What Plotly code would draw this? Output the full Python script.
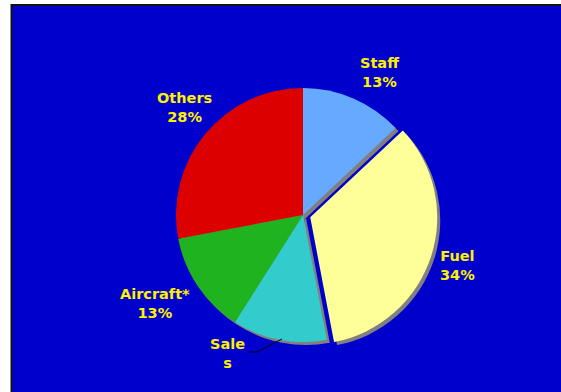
import plotly.graph_objects as go

# Cost breakdown (share of total, %)
categories = ["Staff", "Fuel", "Sales", "Aircraft*", "Others"]
values = [13, 34, 12, 13, 28]
label_lines = ["Staff", "Fuel", "Sale<br>s", "Aircraft*", "Others"]
show_pct = [True, True, False, True, True]
colors = ["#66AAFF", "#FFFF99", "#33CCCC", "#1FB31F", "#DD0000"]
pulls = [0, 0.06, 0, 0, 0]

W, H = 561, 392
BG = "#0000CC"
TXT = "#FFF000"
FONT = "DejaVu Sans, Verdana, sans-serif"

# pie geometry in pixels
cx, cy, r = 303, 215, 127
half = r * (1 + max(pulls))


def dom(cx_px, cy_px):
    return dict(
        x=[(cx_px - half) / W, (cx_px + half) / W],
        y=[(H - cy_px - half) / H, (H - cy_px + half) / H],
    )


fig = go.Figure()

# drop shadow under the pie
fig.add_trace(go.Pie(
    labels=categories, values=values, sort=False, direction="clockwise",
    pull=pulls, marker=dict(colors=["#808080"] * len(values), line=dict(width=0)),
    textinfo="none", hoverinfo="skip", showlegend=False, domain=dom(cx + 3, cy + 3),
))
fig.add_trace(go.Pie(
    labels=categories, values=values, sort=False, direction="clockwise",
    pull=pulls, marker=dict(colors=colors, line=dict(width=0)),
    textinfo="none", showlegend=False, domain=dom(cx, cy),
))

# outside labels (pixel anchors, centre of the text block)
label_pos = [(379, 73), (457, 265), (227, 353), (155, 303), (184, 107)]
for txt, v, show, (lx, ly) in zip(label_lines, values, show_pct, label_pos):
    text = f"{txt}<br>{v}%" if show else txt
    fig.add_annotation(
        x=lx / W, y=(H - ly) / H, xref="paper", yref="paper",
        xanchor="center", yanchor="middle",
        text=f"<b>{text}</b>", showarrow=False, align="center",
        font=dict(family=FONT, size=14.5, color=TXT),
    )

# leader line for the Sales label
pts = [(249, 352), (257, 352), (282, 339)]
path = "M " + " L ".join(f"{x / W} {(H - y) / H}" for x, y in pts)
shapes = [
    dict(type="rect", xref="paper", yref="paper", x0=11.5 / W, x1=1.05,
         y0=-0.05, y1=(H - 5) / H, fillcolor=BG, line=dict(color="#111111", width=2),
         layer="below"),
    dict(type="path", xref="paper", yref="paper", path=path,
         line=dict(color="#000000", width=1)),
]

fig.update_layout(
    width=W, height=H, margin=dict(l=0, r=0, t=0, b=0),
    paper_bgcolor="white", plot_bgcolor="white",
    shapes=shapes, showlegend=False,
    font=dict(family=FONT),
)

fig.write_html("out.html")
